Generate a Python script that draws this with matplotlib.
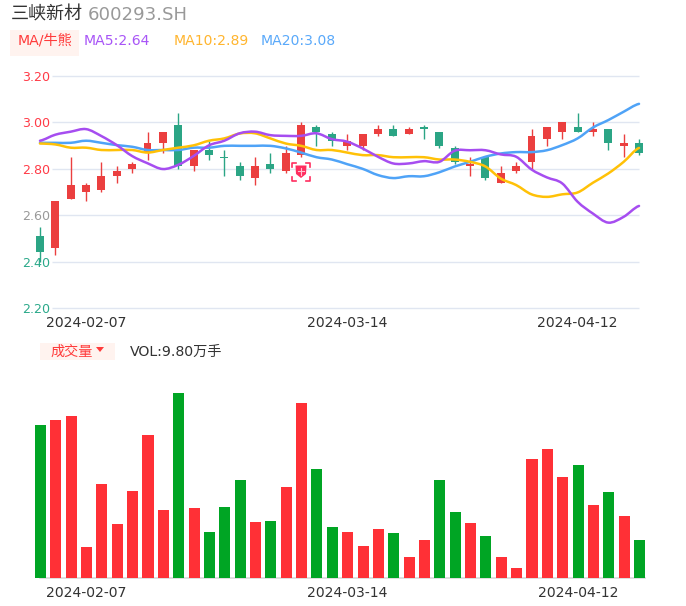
import matplotlib
matplotlib.use('Agg')
import matplotlib.pyplot as plt
from matplotlib.patches import Rectangle, PathPatch, Polygon
from matplotlib.path import Path

plt.rcParams['font.family'] = ['DejaVu Sans', 'Noto Sans CJK SC']

W, H = 686, 606

# candle data
opens = [2.51, 2.46, 2.67, 2.70, 2.71, 2.77, 2.80, 2.87, 2.91, 2.99, 2.81, 2.88, 2.85, 2.81, 2.76, 2.82, 2.79, 2.86, 2.98, 2.95,
         2.90, 2.90, 2.95, 2.97, 2.95, 2.98, 2.96, 2.89, 2.81, 2.85, 2.74, 2.79, 2.83, 2.93, 2.96, 2.98, 2.96, 2.97, 2.90, 2.91]
closes = [2.44, 2.66, 2.73, 2.73, 2.77, 2.79, 2.82, 2.91, 2.96, 2.81, 2.88, 2.86, 2.847, 2.77, 2.81, 2.80, 2.87, 2.99, 2.96, 2.92,
          2.92, 2.95, 2.97, 2.94, 2.97, 2.97, 2.90, 2.83, 2.82, 2.76, 2.78, 2.81, 2.94, 2.98, 3.00, 2.96, 2.97, 2.91, 2.91, 2.87]
highs = [2.55, 2.66, 2.85, 2.74, 2.83, 2.81, 2.83, 2.96, 2.96, 3.04, 2.88, 2.92, 2.88, 2.83, 2.85, 2.87, 2.90, 3.00, 2.99, 2.96,
         2.95, 2.95, 2.99, 2.99, 2.98, 2.99, 2.96, 2.90, 2.85, 2.85, 2.81, 2.83, 2.97, 2.98, 3.00, 3.04, 3.00, 2.97, 2.95, 2.93]
lows = [2.40, 2.43, 2.67, 2.66, 2.70, 2.74, 2.78, 2.84, 2.87, 2.80, 2.79, 2.84, 2.77, 2.75, 2.73, 2.78, 2.78, 2.85, 2.90, 2.90,
        2.88, 2.88, 2.94, 2.94, 2.95, 2.93, 2.89, 2.82, 2.77, 2.75, 2.74, 2.78, 2.80, 2.90, 2.93, 2.96, 2.94, 2.88, 2.85, 2.86]

ma5 = [2.921, 2.947, 2.96, 2.971, 2.941, 2.902, 2.855, 2.824, 2.799, 2.817, 2.855, 2.901, 2.921, 2.953, 2.96, 2.945, 2.942, 2.942, 2.953, 2.928,
       2.917, 2.888, 2.852, 2.823, 2.823, 2.833, 2.83, 2.878, 2.88, 2.88, 2.862, 2.852, 2.797, 2.763, 2.737, 2.658, 2.607, 2.568, 2.593, 2.64]
ma10 = [2.909, 2.905, 2.891, 2.891, 2.881, 2.881, 2.881, 2.87, 2.881, 2.891, 2.901, 2.921, 2.931, 2.952, 2.953, 2.931, 2.909, 2.899, 2.881, 2.881,
        2.87, 2.859, 2.859, 2.85, 2.85, 2.85, 2.84, 2.84, 2.83, 2.81, 2.758, 2.73, 2.69, 2.679, 2.69, 2.698, 2.74, 2.78, 2.83, 2.89]
ma20 = [2.912, 2.912, 2.912, 2.921, 2.912, 2.902, 2.895, 2.881, 2.881, 2.881, 2.891, 2.891, 2.899, 2.899, 2.899, 2.899, 2.888, 2.87, 2.85, 2.84,
        2.82, 2.80, 2.773, 2.76, 2.768, 2.768, 2.785, 2.81, 2.83, 2.852, 2.866, 2.872, 2.872, 2.88, 2.902, 2.931, 2.978, 3.01, 3.046, 3.08]

# volume in 万手, 1 = up (red), 0 = down (green)
volume = [39.2, 40.4, 41.5, 7.9, 24.1, 13.9, 22.2, 36.7, 17.5, 47.4, 17.9, 11.8, 18.3, 25.2, 14.3, 14.5, 23.4, 44.8, 27.9, 13.1,
          11.8, 8.2, 12.5, 11.4, 5.4, 9.7, 25.1, 16.8, 14.1, 10.8, 5.5, 2.6, 30.5, 33.0, 25.9, 29.0, 18.8, 22.0, 15.8, 9.8]
vol_up = [0, 1, 1, 1, 1, 1, 1, 1, 1, 0, 1, 0, 0, 0, 1, 0, 1, 1, 0, 0,
          1, 1, 1, 0, 1, 1, 0, 0, 1, 0, 1, 1, 1, 1, 1, 0, 1, 0, 1, 0]

y_ticks = [2.20, 2.40, 2.60, 2.80, 3.00, 3.20]
y_tick_colors = ['#2BA98A', '#2BA98A', '#999999', '#FF3B47', '#FF3B47', '#FF3B47']
date_idx = [3, 20, 35]
date_labels = ['2024-02-07', '2024-03-14', '2024-04-12']

RED = '#EB3F3F'
GREEN = '#2BA585'
GRID = '#E0E6F1'


def px_axes(left, top, right, bottom):
    return fig.add_axes([left / W, 1 - bottom / H, (right - left) / W, (bottom - top) / H])


def smooth_line(ax, values, color):
    # catmull-rom through the values, so the MA lines bend like the original
    n = len(values)
    verts = [(0, values[0])]
    codes = [Path.MOVETO]
    for i in range(n - 1):
        y0 = values[max(i - 1, 0)]
        y1 = values[i]
        y2 = values[i + 1]
        y3 = values[min(i + 2, n - 1)]
        verts += [(i + 1 / 3, y1 + (y2 - y0) / 6), (i + 2 / 3, y2 - (y3 - y1) / 6), (i + 1, y2)]
        codes += [Path.CURVE4] * 3
    ax.add_patch(PathPatch(Path(verts, codes), fc='none', ec=color, lw=1.8, zorder=4, capstyle='round'))


fig = plt.figure(figsize=(W / 100, H / 100), dpi=100, facecolor='white')

# candlesticks
ax = px_axes(32.3, 76, 646.7, 308)
ax.set_xlim(-0.5, 39.5)
ax.set_ylim(2.20, 3.20)
for s in ax.spines.values():
    s.set_visible(False)
ax.hlines(y_ticks, 0.78, 39, color=GRID, lw=1, zorder=1, clip_on=False)
for i in range(len(opens)):
    c = RED if closes[i] >= opens[i] else GREEN
    ax.vlines(i, lows[i], highs[i], color=c, lw=1, zorder=2)
    ax.bar(i, abs(closes[i] - opens[i]), bottom=min(opens[i], closes[i]), width=0.52, color=c, zorder=3)
smooth_line(ax, ma20, '#4FA3F7')
smooth_line(ax, ma10, '#FFC107')
smooth_line(ax, ma5, '#A64DF0')
ax.set_yticks(y_ticks)
ax.set_yticklabels(['%.2f' % v for v in y_ticks], fontsize=9.1)
for lab, c in zip(ax.get_yticklabels(), y_tick_colors):
    lab.set_color(c)
ax.set_xticks(date_idx)
ax.set_xticklabels(date_labels, fontsize=10.1, color='#333333')
ax.tick_params(length=0)
ax.tick_params(axis='y', pad=-13)
ax.tick_params(axis='x', pad=6)

# volume
ax2 = px_axes(32.8, 378, 647.2, 578)
ax2.set_xlim(-0.5, 39.5)
ax2.set_ylim(0, 51.2)
for s in ax2.spines.values():
    s.set_visible(False)
ax2.bar(range(len(volume)), volume, width=0.72,
        color=['#FF3036' if u else '#00A524' for u in vol_up], zorder=2)
ax2.plot([0, 39.35], [0, 0], color='#D9D9D9', lw=1.2, zorder=1, clip_on=False)
ax2.set_yticks([])
ax2.set_xticks(date_idx)
ax2.set_xticklabels(date_labels, fontsize=10.1, color='#333333')
ax2.tick_params(length=0, pad=6)


# header, in pixel positions
def px_text(x, y, s, size, color, ha='left'):
    fig.text(x / W, 1 - y / H, s, fontsize=size, color=color, ha=ha, va='center')


def px_rect(x0, y0, x1, y1, color):
    fig.add_artist(Rectangle((x0 / W, 1 - y1 / H), (x1 - x0) / W, (y1 - y0) / H, transform=fig.transFigure,
                             fc=color, ec='none', zorder=0))


px_text(11, 15, '三峡新材', 13, '#333333')
px_text(88, 15, '600293.SH', 13.1, '#999999')
px_rect(10, 29.5, 79, 55.5, '#FFF3EF')
px_text(45, 41, 'MA/牛熊', 10.2, '#FF3B3B', ha='center')
px_text(84, 41, 'MA5:2.64', 10.1, '#A855F7')
px_text(174, 41, 'MA10:2.89', 10.1, '#FFB52E')
px_text(261, 41, 'MA20:3.08', 10.1, '#5AA9FA')

px_rect(40, 343, 115, 360, '#FFF3EF')
px_text(50, 351.5, '成交量', 10.2, '#FF3B3B')
fig.add_artist(Polygon([(96 / W, 1 - 347 / H), (104 / W, 1 - 347 / H), (100 / W, 1 - 352 / H)],
                       transform=fig.transFigure, fc='#FF3B3B', ec='none'))
px_text(130, 351.5, 'VOL:9.80万手', 10.2, '#333333')

# small shield badge under the tallest March candle
ICON = '#FF2D5F'
fig.add_artist(Polygon([(295.5 / W, 1 - 165.5 / H), (306.5 / W, 1 - 165.5 / H), (306 / W, 1 - 174 / H),
                        (301 / W, 1 - 178 / H), (296 / W, 1 - 174 / H)],
                       transform=fig.transFigure, fc=ICON, ec='none', zorder=6))
for x0, x1, y0, y1 in [(292, 296, 163, 167), (310, 306, 163, 167), (292, 296, 180.5, 176.5), (310, 306, 180.5, 176.5)]:
    fig.add_artist(plt.Line2D([x1 / W, x0 / W, x0 / W], [1 - y0 / H, 1 - y0 / H, 1 - y1 / H],
                              color=ICON, lw=1.2, zorder=6))
fig.add_artist(plt.Line2D([298 / W, 304 / W], [1 - 171 / H, 1 - 171 / H], color='#FFC0CF', lw=0.8, zorder=7))
fig.add_artist(plt.Line2D([301 / W, 301 / W], [1 - 168.5 / H, 1 - 174.5 / H], color='#FFC0CF', lw=0.8, zorder=7))

fig.savefig('out.png', dpi=100)
